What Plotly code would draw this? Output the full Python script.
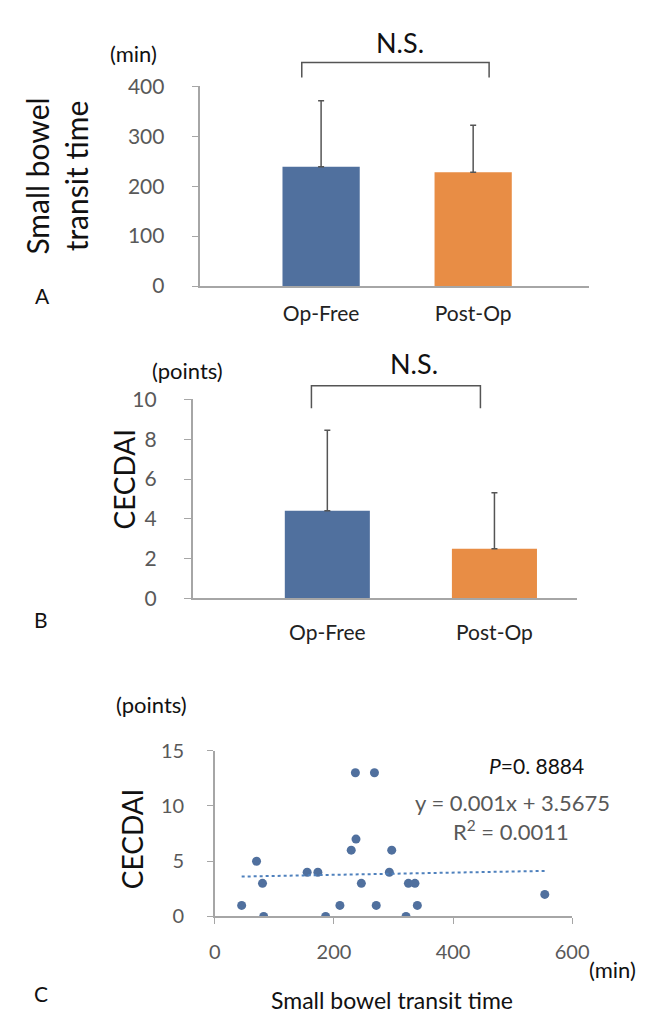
import plotly.graph_objects as go

# ---- data ----
groups = ['Op-Free', 'Post-Op']
sbtt_mean = [239, 228]
sbtt_sd = [132, 94]
cecdai_mean = [4.41, 2.5]
cecdai_sd = [4.04, 2.81]

sbtt_x = [45, 70, 80, 82, 155, 173, 186, 210, 229, 236, 237, 246, 268, 271,
          293, 297, 321, 325, 336, 340, 554]
cecdai_y = [1, 5, 3, 0, 4, 4, 0, 1, 6, 13, 7, 3, 13, 1,
            4, 6, 0, 3, 3, 1, 2]
trend_slope = 0.001
trend_intercept = 3.5675

BLUE = '#50709E'
ORANGE = '#E88D45'
AXIS = '#A6A6A6'
TICK = '#595959'
FONT = 'Lato'
W, H = 670, 1018

bar_x = list(range(len(groups)))

fig = go.Figure()

# A: transit time bars
fig.add_trace(go.Bar(
    x=bar_x, y=sbtt_mean, width=0.508, marker=dict(color=[BLUE, ORANGE], line_width=0),
    error_y=dict(type='data', symmetric=False, array=sbtt_sd, arrayminus=[0, 0],
                 color='#555555', thickness=1.5, width=3),
    xaxis='x', yaxis='y', showlegend=False))

# B: CECDAI bars
fig.add_trace(go.Bar(
    x=bar_x, y=cecdai_mean, width=0.509, marker=dict(color=[BLUE, ORANGE], line_width=0),
    error_y=dict(type='data', symmetric=False, array=cecdai_sd, arrayminus=[0, 0],
                 color='#555555', thickness=1.5, width=3),
    xaxis='x2', yaxis='y2', showlegend=False))

# C: scatter + trend
fig.add_trace(go.Scatter(
    x=sbtt_x, y=cecdai_y, mode='markers',
    marker=dict(color=BLUE, size=9), xaxis='x3', yaxis='y3', showlegend=False))
tx = [min(sbtt_x), max(sbtt_x)]
fig.add_trace(go.Scatter(
    x=tx, y=[trend_slope * v + trend_intercept for v in tx], mode='lines',
    line=dict(color='#4F81BD', width=2, dash='dot'),
    xaxis='x3', yaxis='y3', showlegend=False))

ax_common = dict(showline=True, linecolor=AXIS, linewidth=1.5, showgrid=False,
                 zeroline=False, tickfont=dict(family=FONT, size=21, color=TICK))

fig.update_layout(
    width=W, height=H, margin=dict(l=0, r=0, t=0, b=0),
    plot_bgcolor='white', paper_bgcolor='white',
    font=dict(family=FONT),
    xaxis=dict(ax_common, domain=[193 / W, 595 / W], range=[-0.794, 1.759],
               tickvals=bar_x, ticktext=groups, ticks='', ticklabelstandoff=8,
               tickfont=dict(family=FONT, size=21, color='#222222')),
    yaxis=dict(ax_common, domain=[1 - 270.7 / H, 1 - 66 / H], range=[0, 400],
               tickvals=[0, 100, 200, 300, 400], ticks='outside', ticklen=7,
               tickcolor=AXIS, ticklabelstandoff=23),
    xaxis2=dict(ax_common, domain=[185 / W, 583 / W], range=[-0.806, 1.494],
                tickvals=bar_x, ticktext=groups, ticks='', ticklabelstandoff=15,
                tickfont=dict(family=FONT, size=21, color='#222222'), anchor='y2'),
    yaxis2=dict(ax_common, domain=[1 - 591 / H, 1 - 387 / H], range=[0, 10],
                tickvals=[0, 2, 4, 6, 8, 10], ticks='outside', ticklen=7,
                tickcolor=AXIS, ticklabelstandoff=23, anchor='x2'),
    xaxis3=dict(ax_common, domain=[208 / W, 578 / W], range=[0, 600],
                tickvals=[0, 200, 400, 600], ticks='outside', ticklen=6,
                tickcolor=AXIS, ticklabelstandoff=11, anchor='y3',
                tickfont=dict(family=FONT, size=20, color=TICK)),
    yaxis3=dict(ax_common, domain=[1 - 917 / H, 1 - 747 / H], range=[0, 15],
                tickvals=[0, 5, 10, 15], ticks='outside', ticklen=6,
                tickcolor=AXIS, ticklabelstandoff=19, anchor='x3',
                tickfont=dict(family=FONT, size=20, color=TICK)),
)


def note(text, px, py, size, color='#111111', angle=0):
    fig.add_annotation(text=text, x=px / W, y=1 - py / H, xref='paper', yref='paper',
                       showarrow=False, textangle=angle, xanchor='center', yanchor='middle',
                       font=dict(family=FONT, size=size, color=color))


note('(min)', 124, 32, 22)
note('N.S.', 400, 21, 27)
note('Small bowel<br>transit time', 44, 158, 30, angle=-90)
note('A', 29, 280, 21)

note('(points)', 180, 357, 22)
note('N.S.', 414, 350, 27)
note('CECDAI', 114, 469, 28, angle=-90)
note('B', 28, 613, 21)

note('(points)', 142, 700, 22)
note('CECDAI', 123, 837, 28, angle=-90)
note('<i>P</i>=0. 8884', 541, 762, 21)
note('y = 0.001x + 3.5675', 516, 800, 22, color=TICK)
note('R<sup>2</sup> = 0.0011', 515, 829, 22, color=TICK)
note('(min)', 620, 971, 22)
note('Small bowel transit time', 391, 1003, 23)
note('C', 28, 996, 21)

# significance brackets
for x0, x1, ytop, ybot in [(298, 492, 41.5, 57), (308, 483, 373, 396)]:
    fig.add_shape(type='path', xref='paper', yref='paper',
                  path=f'M {x0 / W},{1 - ybot / H} L {x0 / W},{1 - ytop / H} '
                       f'L {x1 / W},{1 - ytop / H} L {x1 / W},{1 - ybot / H}',
                  line=dict(color='#555555', width=1.5))

fig.write_html('out.html')
